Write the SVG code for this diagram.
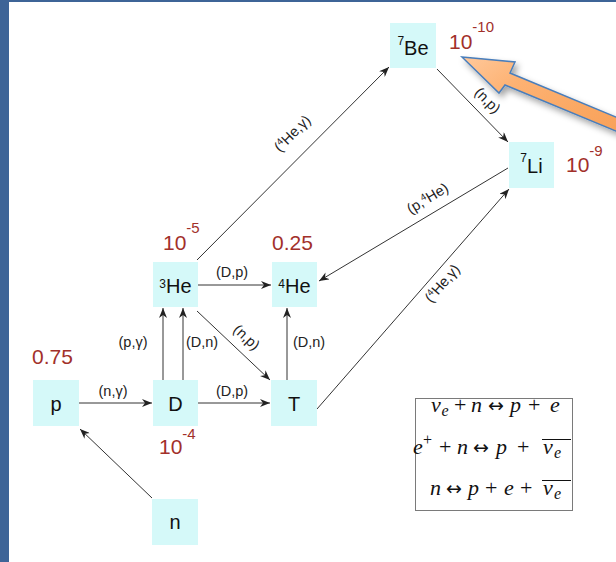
<svg xmlns="http://www.w3.org/2000/svg" width="616" height="562" viewBox="0 0 616 562">
<defs>
<style>
.box{fill:#d5f9f9}
.nt{font-family:"Liberation Sans",Arial,sans-serif;font-size:20px;fill:#111;text-anchor:middle}
.sup{font-size:12px}
.ab{font-family:"Liberation Sans",Arial,sans-serif;font-size:21px;fill:#a2302a}
.abs{font-size:15px}
.ln{stroke:#333;stroke-width:1;fill:none}
.arr{marker-end:url(#ah)}
.lb{font-family:"Liberation Sans",Arial,sans-serif;font-size:14.5px;fill:#222;text-anchor:middle}
.lbs{font-size:9.5px}
.eq{font-family:"Liberation Serif","Times New Roman",serif;font-size:22px;fill:#111}
.i{font-style:italic}
.es{font-size:16px}
.ar{font-family:"DejaVu Sans",sans-serif;font-size:19px}
.bar{stroke:#111;stroke-width:1}
</style>
<marker id="ah" markerWidth="11" markerHeight="8" refX="10" refY="4" orient="auto" markerUnits="userSpaceOnUse"><path d="M0,0 L10,4 L0,8 L3,4 Z" fill="#222"/></marker>
<linearGradient id="og" x1="0" y1="0" x2="1" y2="0.6">
<stop offset="0" stop-color="#ffc99c"/>
<stop offset="0.35" stop-color="#fdb273"/>
<stop offset="1" stop-color="#f9a25a"/>
</linearGradient>
<filter id="sh" x="-20%" y="-20%" width="140%" height="160%">
<feDropShadow dx="3" dy="4" stdDeviation="3" flood-color="#000" flood-opacity="0.35"/>
</filter>
</defs>
<rect x="0" y="0" width="616" height="562" fill="#ffffff"/>
<rect x="0" y="0" width="9" height="562" fill="#3e6497"/>
<rect x="0" y="0" width="616" height="2" fill="#3e6497"/>

<g id="connectors">
<line class="ln arr" x1="197" y1="260" x2="389" y2="67"/>
<line class="ln arr" x1="437" y1="69" x2="508" y2="142"/>
<line class="ln arr" x1="508" y1="168" x2="319" y2="281"/>
<line class="ln arr" x1="317" y1="409" x2="509" y2="189"/>
<line class="ln arr" x1="198" y1="285" x2="271" y2="285"/>
<line class="ln arr" x1="197" y1="311" x2="270" y2="380"/>
<line class="ln arr" x1="163" y1="380" x2="163" y2="308"/>
<line class="ln arr" x1="183" y1="380" x2="183" y2="308"/>
<line class="ln arr" x1="287" y1="380" x2="287" y2="308"/>
<line class="ln arr" x1="79" y1="403" x2="152" y2="403"/>
<line class="ln arr" x1="198" y1="403" x2="270" y2="403"/>
<line class="ln arr" x1="152" y1="498" x2="80" y2="429"/>
<text class="lb" transform="translate(293,134) rotate(-45)" y="4">(<tspan class="lbs" dy="-5">4</tspan><tspan dy="5">He,γ)</tspan></text>
<text class="lb" transform="translate(487,101) rotate(45)" y="4">(n,p)</text>
<text class="lb" transform="translate(428,199) rotate(-31)" y="4">(p,<tspan class="lbs" dy="-5">4</tspan><tspan dy="5">He)</tspan></text>
<text class="lb" transform="translate(443,284) rotate(-49)" y="4">(<tspan class="lbs" dy="-5">4</tspan><tspan dy="5">He,γ)</tspan></text>
<text class="lb" transform="translate(246,338) rotate(43)" y="4">(n,p)</text>
<text class="lb" x="232" y="277">(D,p)</text>
<text class="lb" x="113" y="396">(n,γ)</text>
<text class="lb" x="232" y="396">(D,p)</text>
<text class="lb" x="133" y="347">(p,γ)</text>
<text class="lb" x="202" y="347">(D,n)</text>
<text class="lb" x="309" y="347">(D,n)</text>
</g>

<g id="node-Be7">
<rect class="box" x="390" y="23" width="46" height="45"/>
<text class="nt" x="413" y="55"><tspan class="sup" dy="-10">7</tspan><tspan dy="10">Be</tspan></text>
<text class="ab" x="449" y="49">10<tspan class="abs" dy="-17">-10</tspan></text>
</g>
<g id="node-Li7">
<rect class="box" x="509" y="142" width="45" height="46"/>
<text class="nt" x="531.5" y="173"><tspan class="sup" dy="-11">7</tspan><tspan dy="11">Li</tspan></text>
<text class="ab" x="566" y="172">10<tspan class="abs" dy="-16">-9</tspan></text>
</g>
<g id="node-He3">
<rect class="box" x="153" y="262" width="45" height="45"/>
<text class="nt" x="175.5" y="293"><tspan class="sup" dy="-5">3</tspan><tspan dy="5">He</tspan></text>
<text class="ab" x="163" y="250">10<tspan class="abs" dy="-17">-5</tspan></text>
</g>
<g id="node-He4">
<rect class="box" x="272" y="262" width="45" height="45"/>
<text class="nt" x="294.5" y="293"><tspan class="sup" dy="-5">4</tspan><tspan dy="5">He</tspan></text>
<text class="ab" x="272" y="250">0.25</text>
</g>
<g id="node-p">
<rect class="box" x="33" y="380" width="46" height="46"/>
<text class="nt" x="56" y="411">p</text>
<text class="ab" x="32" y="364">0.75</text>
</g>
<g id="node-D">
<rect class="box" x="153" y="380" width="45" height="46"/>
<text class="nt" x="175.5" y="411">D</text>
<text class="ab" x="159" y="454">10<tspan class="abs" dy="-15">-4</tspan></text>
</g>
<g id="node-T">
<rect class="box" x="271" y="380" width="46" height="46"/>
<text class="nt" x="294" y="411">T</text>
</g>
<g id="node-n">
<rect class="box" x="152" y="499" width="46" height="46"/>
<text class="nt" x="175" y="529">n</text>
</g>

<g id="equations">
<rect x="415.5" y="398.5" width="157" height="112" fill="#fff" stroke="#7a7a7a" stroke-width="1"/>
<text class="eq" y="412"><tspan class="i" x="431">ν</tspan><tspan class="i es" x="441.5" dy="4">e</tspan><tspan x="454" dy="-4">+</tspan><tspan class="i" x="471">n</tspan><tspan class="ar" x="488">↔</tspan><tspan class="i" x="510">p</tspan><tspan x="528">+</tspan><tspan class="i" x="550">e</tspan></text>
<text class="eq" y="454"><tspan class="i" x="413">e</tspan><tspan class="es" x="423" dy="-9">+</tspan><tspan x="439" dy="9">+</tspan><tspan class="i" x="457">n</tspan><tspan class="ar" x="473">↔</tspan><tspan class="i" x="496">p</tspan><tspan x="517">+</tspan><tspan class="i" x="543">ν</tspan><tspan class="i es" x="554" dy="4">e</tspan></text>
<line class="bar" x1="542" y1="439.5" x2="571" y2="439.5"/>
<text class="eq" y="495"><tspan class="i" x="430">n</tspan><tspan class="ar" x="446">↔</tspan><tspan class="i" x="468">p</tspan><tspan x="485">+</tspan><tspan class="i" x="504">e</tspan><tspan x="520">+</tspan><tspan class="i" x="543">ν</tspan><tspan class="i es" x="554" dy="4">e</tspan></text>
<line class="bar" x1="542" y1="480.5" x2="571" y2="480.5"/>
</g>

<g id="callout-arrow">
<polygon points="462,57 515,62 510,73 640,127 640,141 505,85 499,93" fill="url(#og)" stroke="#4a7ebb" stroke-width="1.5" stroke-linejoin="miter" filter="url(#sh)"/>
</g>
</svg>
